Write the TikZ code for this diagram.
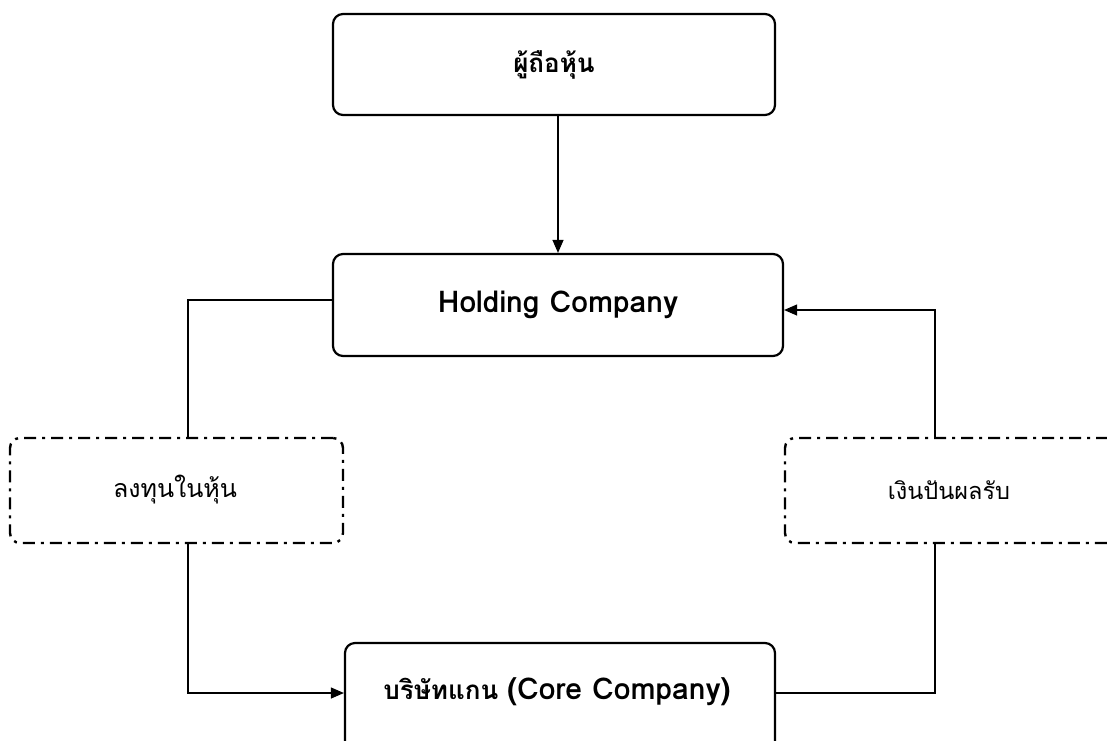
\documentclass[tikz,border=0pt]{standalone}
\usepackage{fontspec}
\setmainfont[Script=Thai]{Loma}
\usetikzlibrary{arrows.meta}
\newcommand{\lat}[1]{{\fontsize{30}{34}\selectfont #1}}
\begin{document}
\begin{tikzpicture}[x=1pt,y=-1pt,
  solidbox/.style={draw, line width=2.2pt, rounded corners=10pt, inner sep=0pt,
    font=\fontsize{26}{30}\selectfont\bfseries},
  dashbox/.style={draw, line width=2.4pt, rounded corners=10pt, inner sep=0pt,
    dash pattern=on 12pt off 6pt on 3pt off 6pt},
  lbl/.style={font=\fontsize{25}{30}\selectfont},
  conn/.style={line width=1.2pt},
  tip/.style={-{Triangle[length=13pt,width=11pt]}}]
\useasboundingbox (0,0) rectangle (1107,740);
\clip (0,0) rectangle (1107,740);
\fill[white] (0,0) rectangle (1107,740);

% main boxes
\node[solidbox, minimum width=442pt, minimum height=101pt] (share) at (554,64.5) {ผู้ถือหุ้น};
\node[solidbox, minimum width=450pt, minimum height=102pt] (hold) at (558,305) {\lat{Holding Company}};
\node[solidbox, minimum width=430pt, minimum height=120pt] (core) at (560,703) {};
\node[font=\fontsize{26}{30}\selectfont\bfseries] (coretext) at (557,692) {บริษัทแกน \lat{(Core Company)}};

% dashed flow labels
\node[dashbox, minimum width=333pt, minimum height=105pt] (invest) at (176.5,490.5) {};
\node[lbl] (investtext) at (175,490) {ลงทุนในหุ้น};
\node[dashbox, minimum width=333pt, minimum height=105pt] (divid) at (951.5,490.5) {};
\node[lbl, font=\fontsize{23.5}{28}\selectfont] (dividtext) at (949,490) {เงินปันผลรับ};

% connectors
\coordinate (lt) at (188,300);
\coordinate (lb) at (188,693);
\coordinate (rb) at (935,693);
\coordinate (rt) at (935,310);
\draw[conn, tip] (hold.north |- share.south) -- (hold.north);
\draw[conn] (hold.west |- lt) -- (lt) -- (lt |- invest.north);
\draw[conn, tip] (lb |- invest.south) -- (lb) -- (core.west |- lb);
\draw[conn] (core.east |- rb) -- (rb) -- (rb |- divid.south);
\draw[conn, tip] (rt |- divid.north) -- (rt) -- (hold.east |- rt);
\end{tikzpicture}
\end{document}
